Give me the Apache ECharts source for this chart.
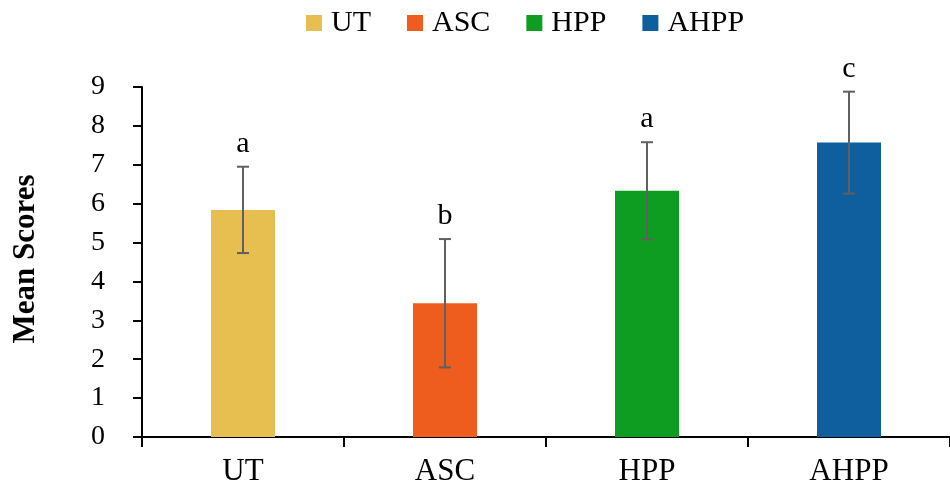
<!DOCTYPE html>
<html><head><meta charset="utf-8">
<script src="https://cdn.jsdelivr.net/npm/echarts@6/dist/echarts.min.js"></script>
<style>html,body{margin:0;padding:0;background:#fff}#c{width:950px;height:488px}</style>
</head><body><div id="c"></div>
<script>
var categories = ['UT', 'ASC', 'HPP', 'AHPP'];
var means = [5.84, 3.44, 6.33, 7.57];
var errors = [1.11, 1.65, 1.25, 1.31];
var letters = ['a', 'b', 'a', 'c'];
var yTicks = [0, 1, 2, 3, 4, 5, 6, 7, 8, 9];
var colors = ['#E7BF51', '#EF5D1E', '#0F9D21', '#0F5E9D'];

var FONT = '"Liberation Serif", "Times New Roman", serif';
var chart = echarts.init(document.getElementById('c'));

var barSeries = categories.map(function (name, i) {
  return {
    name: name, type: 'bar', barWidth: 64, barGap: '-100%',
    itemStyle: { color: colors[i] },
    data: categories.map(function (c, j) { return j === i ? means[j] : '-'; }),
    z: 2
  };
});

var errData = categories.map(function (c, i) {
  return [i, means[i] - errors[i], means[i] + errors[i], letters[i]];
});

barSeries.push({
  type: 'custom', name: 'err', z: 5,
  data: errData,
  renderItem: function (params, api) {
    var x = api.value(0);
    var lo = api.coord([x, api.value(1)]);
    var hi = api.coord([x, api.value(2)]);
    var hw = 6;
    var st = { stroke: '#606060', lineWidth: 2 };
    return {
      type: 'group',
      children: [
        { type: 'line', shape: { x1: lo[0], y1: lo[1], x2: hi[0], y2: hi[1] }, style: st },
        { type: 'line', shape: { x1: lo[0] - hw, y1: lo[1], x2: lo[0] + hw, y2: lo[1] }, style: st },
        { type: 'line', shape: { x1: hi[0] - hw, y1: hi[1], x2: hi[0] + hw, y2: hi[1] }, style: st },
        { type: 'text', style: { text: letters[params.dataIndex], x: hi[0], y: hi[1] - 8,
            textAlign: 'center', textVerticalAlign: 'bottom', fill: '#000',
            font: '30px ' + FONT } }
      ]
    };
  }
});

chart.setOption({
  animation: false,
  backgroundColor: '#fff',
  legend: {
    data: categories, left: 301, top: 3, itemWidth: 16, itemHeight: 16, itemGap: 36,
    textStyle: { fontFamily: FONT, fontSize: 30, color: '#000', padding: [0, 0, 0, 4] },
    icon: 'rect'
  },
  grid: { left: 142, top: 87, width: 812, height: 350 },
  xAxis: {
    type: 'category', data: categories,
    axisLine: { lineStyle: { color: '#000', width: 2 } },
    axisTick: { show: true, length: 10, lineStyle: { color: '#000', width: 2 } },
    axisLabel: { fontFamily: FONT, fontSize: 31, color: '#000', margin: 19 }
  },
  yAxis: {
    type: 'value', min: 0, max: 9, interval: 1,
    splitLine: { show: false },
    axisLine: { show: true, lineStyle: { color: '#000', width: 2 } },
    axisTick: { show: true, length: 9, lineStyle: { color: '#000', width: 2 } },
    axisLabel: { fontFamily: FONT, fontSize: 28, color: '#000', margin: 37,
      formatter: function (v) { return yTicks.indexOf(v) >= 0 ? String(v) : ''; } }
  },
  graphic: [{
    type: 'text', x: 26, y: 259, rotation: Math.PI / 2,
    style: { text: 'Mean Scores', font: 'bold 31px ' + FONT, fill: '#000',
      textAlign: 'center', textVerticalAlign: 'middle' }
  }],
  series: barSeries
});
</script></body></html>
